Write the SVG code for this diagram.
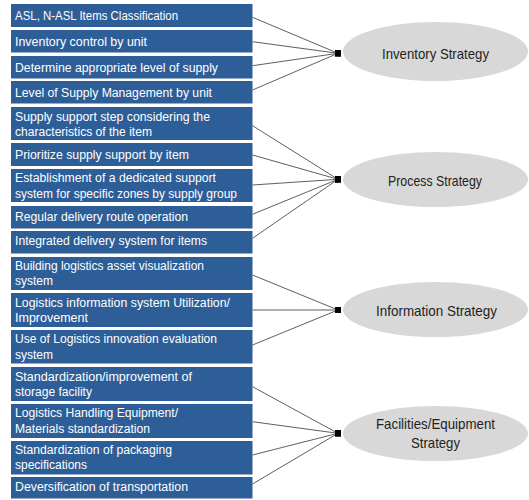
<svg xmlns="http://www.w3.org/2000/svg" width="529" height="500" viewBox="0 0 529 500">
  <defs>
    <style>
      .item rect { fill: #2E5E98; }
      .item text { fill: #FFFFFF; font-family: "Liberation Sans", Arial, sans-serif; font-size: 12.5px; }
      .strategy ellipse { fill: #D8D8D8; }
      .strategy text { fill: #231F20; font-family: "Liberation Sans", Arial, sans-serif; font-size: 14.5px; text-anchor: middle; }
      .link { stroke: #4D4D4D; stroke-width: 0.9; fill: none; marker-end: url(#hub); }
    </style>
    <marker id="hub" markerUnits="userSpaceOnUse" markerWidth="7" markerHeight="7" refX="3.5" refY="3.5" viewBox="0 0 7 7">
      <rect x="0.5" y="0.5" width="6" height="6" fill="#000000"/>
    </marker>
  </defs>

  <rect width="529" height="500" fill="#FFFFFF"/>

  <!-- connectors: each item box to the hub beside its strategy -->
  <g id="connectors">
    <line class="link" x1="252.5" y1="17.3" x2="338" y2="53.3"/>
    <line class="link" x1="252.5" y1="41.7" x2="338" y2="53.3"/>
    <line class="link" x1="252.5" y1="65.7" x2="338" y2="53.3"/>
    <line class="link" x1="252.5" y1="90" x2="338" y2="53.3"/>

    <line class="link" x1="252.5" y1="125.7" x2="338" y2="179.3"/>
    <line class="link" x1="252.5" y1="155" x2="338" y2="179.3"/>
    <line class="link" x1="252.5" y1="185" x2="338" y2="179.3"/>
    <line class="link" x1="252.5" y1="214.3" x2="338" y2="179.3"/>
    <line class="link" x1="252.5" y1="238.3" x2="338" y2="179.3"/>

    <line class="link" x1="252.5" y1="275" x2="338" y2="310"/>
    <line class="link" x1="252.5" y1="310" x2="338" y2="310"/>
    <line class="link" x1="252.5" y1="345" x2="338" y2="310"/>

    <line class="link" x1="252.5" y1="386.7" x2="338" y2="433.3"/>
    <line class="link" x1="252.5" y1="421.7" x2="338" y2="433.3"/>
    <line class="link" x1="252.5" y1="455" x2="338" y2="433.3"/>
    <line class="link" x1="252.5" y1="484" x2="338" y2="433.3"/>
  </g>

  <!-- item boxes -->
  <g id="item-asl" class="item">
    <rect x="11" y="4" width="241.5" height="23"/>
    <text x="15" y="20" textLength="163" lengthAdjust="spacingAndGlyphs">ASL, N-ASL Items Classification</text>
  </g>
  <g id="item-inventory-control" class="item">
    <rect x="11" y="30" width="241.5" height="22.5"/>
    <text x="15" y="45.5" textLength="132" lengthAdjust="spacingAndGlyphs">Inventory control by unit</text>
  </g>
  <g id="item-supply-level" class="item">
    <rect x="11" y="56" width="241.5" height="22.5"/>
    <text x="15" y="71.5" textLength="203" lengthAdjust="spacingAndGlyphs">Determine appropriate level of supply</text>
  </g>
  <g id="item-supply-management" class="item">
    <rect x="11" y="81" width="241.5" height="22.5"/>
    <text x="15" y="96.5" textLength="197" lengthAdjust="spacingAndGlyphs">Level of Supply Management by unit</text>
  </g>
  <g id="item-support-step" class="item">
    <rect x="11" y="107" width="241.5" height="33"/>
    <text x="15" y="120.5" textLength="195" lengthAdjust="spacingAndGlyphs">Supply support step considering the</text>
    <text x="15" y="135.5" textLength="137" lengthAdjust="spacingAndGlyphs">characteristics of the item</text>
  </g>
  <g id="item-prioritize" class="item">
    <rect x="11" y="143" width="241.5" height="23"/>
    <text x="15" y="158.5" textLength="174" lengthAdjust="spacingAndGlyphs">Prioritize supply support by item</text>
  </g>
  <g id="item-dedicated-support" class="item">
    <rect x="11" y="169" width="241.5" height="33"/>
    <text x="15" y="182" textLength="201" lengthAdjust="spacingAndGlyphs">Establishment of a dedicated support</text>
    <text x="15" y="197.5" textLength="222" lengthAdjust="spacingAndGlyphs">system for specific zones by supply group</text>
  </g>
  <g id="item-delivery-route" class="item">
    <rect x="11" y="206" width="241.5" height="22.5"/>
    <text x="15" y="220.5" textLength="173" lengthAdjust="spacingAndGlyphs">Regular delivery route operation</text>
  </g>
  <g id="item-delivery-system" class="item">
    <rect x="11" y="231" width="241.5" height="22.5"/>
    <text x="15" y="244.5" textLength="192" lengthAdjust="spacingAndGlyphs">Integrated delivery system for items</text>
  </g>
  <g id="item-asset-visualization" class="item">
    <rect x="11" y="257" width="241.5" height="33"/>
    <text x="15" y="269.5" textLength="189" lengthAdjust="spacingAndGlyphs">Building logistics asset visualization</text>
    <text x="15" y="285" textLength="38" lengthAdjust="spacingAndGlyphs">system</text>
  </g>
  <g id="item-info-system" class="item">
    <rect x="11" y="293" width="241.5" height="34"/>
    <text x="15" y="306.5" textLength="215" lengthAdjust="spacingAndGlyphs">Logistics information system Utilization/</text>
    <text x="15" y="322" textLength="73" lengthAdjust="spacingAndGlyphs">Improvement</text>
  </g>
  <g id="item-innovation-evaluation" class="item">
    <rect x="11" y="330" width="241.5" height="33.5"/>
    <text x="15" y="343" textLength="202" lengthAdjust="spacingAndGlyphs">Use of Logistics innovation evaluation</text>
    <text x="15" y="358.5" textLength="38" lengthAdjust="spacingAndGlyphs">system</text>
  </g>
  <g id="item-storage-facility" class="item">
    <rect x="11" y="367" width="241.5" height="34"/>
    <text x="15" y="380.5" textLength="177" lengthAdjust="spacingAndGlyphs">Standardization/improvement of</text>
    <text x="15" y="396" textLength="77" lengthAdjust="spacingAndGlyphs">storage facility</text>
  </g>
  <g id="item-handling-equipment" class="item">
    <rect x="11" y="404" width="241.5" height="34"/>
    <text x="15" y="417" textLength="163" lengthAdjust="spacingAndGlyphs">Logistics Handling Equipment/</text>
    <text x="15" y="432.5" textLength="135" lengthAdjust="spacingAndGlyphs">Materials standardization</text>
  </g>
  <g id="item-packaging" class="item">
    <rect x="11" y="441" width="241.5" height="33.5"/>
    <text x="15" y="453.5" textLength="157" lengthAdjust="spacingAndGlyphs">Standardization of packaging</text>
    <text x="15" y="469" textLength="72" lengthAdjust="spacingAndGlyphs">specifications</text>
  </g>
  <g id="item-transportation" class="item">
    <rect x="11" y="477" width="241.5" height="21.5"/>
    <text x="15" y="491" textLength="173" lengthAdjust="spacingAndGlyphs">Deversification of transportation</text>
  </g>

  <!-- strategy ellipses -->
  <g id="strategy-inventory" class="strategy">
    <ellipse cx="435.5" cy="51.5" rx="92.5" ry="29.5"/>
    <text x="435.5" y="59" textLength="107" lengthAdjust="spacingAndGlyphs">Inventory Strategy</text>
  </g>
  <g id="strategy-process" class="strategy">
    <ellipse cx="435.5" cy="179.5" rx="92.5" ry="27.5"/>
    <text x="435" y="185.5" textLength="94" lengthAdjust="spacingAndGlyphs">Process Strategy</text>
  </g>
  <g id="strategy-information" class="strategy">
    <ellipse cx="435.5" cy="309.5" rx="92.5" ry="27.5"/>
    <text x="436.5" y="315.5" textLength="121" lengthAdjust="spacingAndGlyphs">Information Strategy</text>
  </g>
  <g id="strategy-facilities" class="strategy">
    <ellipse cx="435.5" cy="433.5" rx="92.5" ry="27.5"/>
    <text x="435.5" y="429" textLength="119" lengthAdjust="spacingAndGlyphs">Facilities/Equipment</text>
    <text x="435.5" y="447.5" textLength="49" lengthAdjust="spacingAndGlyphs">Strategy</text>
  </g>
</svg>
